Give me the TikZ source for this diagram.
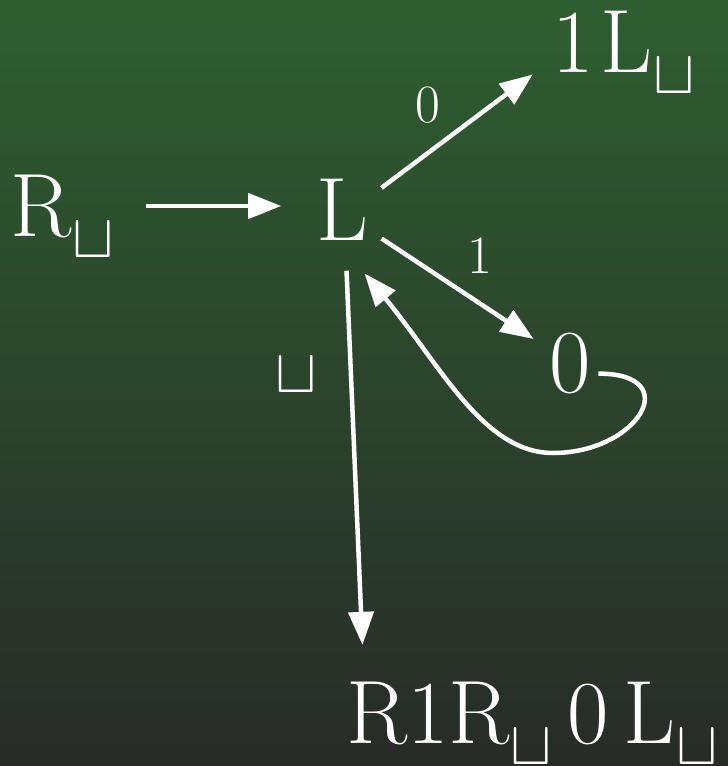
\documentclass[tikz,border=0pt]{standalone}
\usepackage{graphicx}
\usetikzlibrary{arrows.meta}
\definecolor{topgreen}{RGB}{46,94,48}
\definecolor{botgray}{RGB}{40,43,40}
\newcommand{\blank}{\scalebox{6.2}{\fontsize{10}{12}\selectfont$\sqcup$}}
\newcommand{\sub}{\kern1pt\raisebox{-21pt}{\blank}}

\begin{document}
\begin{tikzpicture}[x=1pt, y=-1pt,
    big/.style={font=\fontsize{90}{90}\selectfont, text=white, inner sep=0pt},
    small/.style={font=\fontsize{54}{54}\selectfont, text=white, inner sep=0pt},
    edge/.style={white, line width=4.5pt, -{Triangle[length=33pt,width=25pt]}}]
    \shade[top color=topgreen, bottom color=botgray] (0,0) rectangle (728,766);

    \node[big, anchor=base west] (rb) at (10,236) {R\sub};
    \node[big, circle, text height=68pt, anchor=base] (l) at (342.6,240) {L};
    \node[big, anchor=base west] (one) at (552,72) {1\kern7pt L\sub};
    \node[big, anchor=base] (zero) at (570,392) {0};
    \node[big, anchor=base west] (bot) at (346,743) {R1R\sub\,0\,L\sub};
    \coordinate (loopbot) at (553,453);

    \draw[edge, shorten <=32pt, shorten >=18.5pt] (rb.east |- l.west) -- (l.west);
    \draw[edge, shorten >=24pt] (l.25) -- ([yshift=12pt]one.base west);
    \draw[edge, shorten <=8pt, shorten >=18.6pt] (l.-41) -- (zero);
    \draw[edge, shorten <=22pt, shorten >=36.5pt] (l.-86) -- ([xshift=18pt]bot.north west);
    \draw[edge, shorten <=7.5pt, shorten >=32pt] (zero.-27) .. controls +(95,0) and +(85,0) .. (loopbot)
        .. controls +(-70,0) and +(96,115.5) .. (l.-88);

    \node[small] (lzero) at (428,105) {0};
    \node[small] (lone) at (480,255.5) {1};
    \node[small] (lblank) at (296,375.5) {\blank};
\end{tikzpicture}
\end{document}
